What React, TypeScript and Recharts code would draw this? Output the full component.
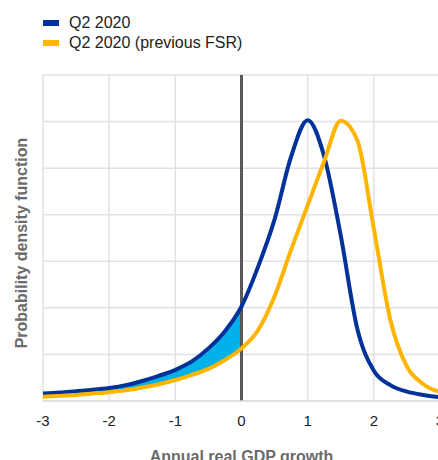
import React from "react";
import {
  ComposedChart,
  Line,
  Area,
  XAxis,
  YAxis,
  CartesianGrid,
  ReferenceLine,
} from "recharts";

// growth grid (pp)
const growth = [
  -3, -2.75, -2.5, -2.25, -2, -1.75, -1.5, -1.25, -1, -0.75, -0.5, -0.25, 0,
  0.25, 0.5, 0.75, 1, 1.25, 1.5, 1.75, 2, 2.25, 2.5, 2.75, 3,
];

const q2 = [
  0.016, 0.018, 0.021, 0.024, 0.028, 0.034, 0.043, 0.054, 0.067, 0.085, 0.113,
  0.15, 0.203, 0.288, 0.39, 0.525, 0.603, 0.525, 0.355, 0.155, 0.065, 0.034,
  0.02, 0.013, 0.008,
];

const q2Prev = [
  0.009, 0.011, 0.013, 0.016, 0.019, 0.023, 0.029, 0.036, 0.045, 0.056, 0.069,
  0.088, 0.113, 0.152, 0.225, 0.325, 0.42, 0.515, 0.602, 0.56, 0.37, 0.174,
  0.074, 0.036, 0.019,
];

const xTicks = [-3, -2, -1, 0, 1, 2, 3];
const yTicks = [0, 0.1, 0.2, 0.3, 0.4, 0.5, 0.6, 0.7];

const BLUE = "#003299";
const YELLOW = "#FFB400";
const CYAN = "#00B1EA";

const data = growth.map((g, i) => ({
  g,
  q2: q2[i],
  prev: q2Prev[i],
  band: g <= 0 ? [q2Prev[i], q2[i]] : undefined,
}));

const font = "'Liberation Sans', Arial, sans-serif";

const LegendBox = () => (
  <div style={{ position: "absolute", left: 43, top: 13, fontFamily: font, fontSize: 16, color: "#222" }}>
    {[
      { name: "Q2 2020", color: BLUE },
      { name: "Q2 2020 (previous FSR)", color: YELLOW },
    ].map((s) => (
      <div key={s.name} style={{ display: "flex", alignItems: "center", height: 20 }}>
        <span style={{ width: 16, height: 6, background: s.color, marginRight: 10 }} />
        <span>{s.name}</span>
      </div>
    ))}
  </div>
);

export default function App() {
  return (
    <div
      style={{
        position: "fixed",
        top: 0,
        left: 0,
        width: 438,
        height: 460,
        overflow: "hidden",
        background: "#fff",
      }}
    >
      <LegendBox />
      <ComposedChart
        width={460}
        height={480}
        data={data}
        margin={{ top: 75, right: 20, left: 0, bottom: 0 }}
        style={{ fontFamily: font }}
      >
        <CartesianGrid stroke="#e2e2e2" strokeWidth={1.5} />
        <XAxis
          dataKey="g"
          type="number"
          domain={[-3, 3]}
          ticks={xTicks}
          height={79}
          tickLine={false}
          axisLine={{ stroke: "#dcdcdc", strokeWidth: 1.5 }}
          tickMargin={8}
          tick={{ fill: "#222", fontSize: 15 }}
          label={{
            value: "Annual real GDP growth",
            position: "insideBottom",
            offset: 18,
            fill: "#6b6b6b",
            fontSize: 16,
            fontWeight: "bold",
          }}
        />
        <YAxis
          domain={[0, 0.7]}
          ticks={yTicks}
          width={43}
          tick={() => <g />}
          tickLine={false}
          axisLine={false}
          label={{
            value: "Probability density function",
            angle: -90,
            position: "center",
            dy: 5,
            fill: "#6b6b6b",
            fontSize: 16,
            fontWeight: "bold",
          }}
        />
        <Area
          dataKey="band"
          type="monotone"
          stroke="none"
          fill={CYAN}
          fillOpacity={1}
          isAnimationActive={false}
        />
        <ReferenceLine x={0} stroke="#595959" strokeWidth={3} />
        <Line
          dataKey="q2"
          type="monotone"
          stroke={BLUE}
          strokeWidth={4}
          dot={false}
          activeDot={false}
          isAnimationActive={false}
        />
        <Line
          dataKey="prev"
          type="monotone"
          stroke={YELLOW}
          strokeWidth={4}
          dot={false}
          activeDot={false}
          isAnimationActive={false}
        />
      </ComposedChart>
    </div>
  );
}
